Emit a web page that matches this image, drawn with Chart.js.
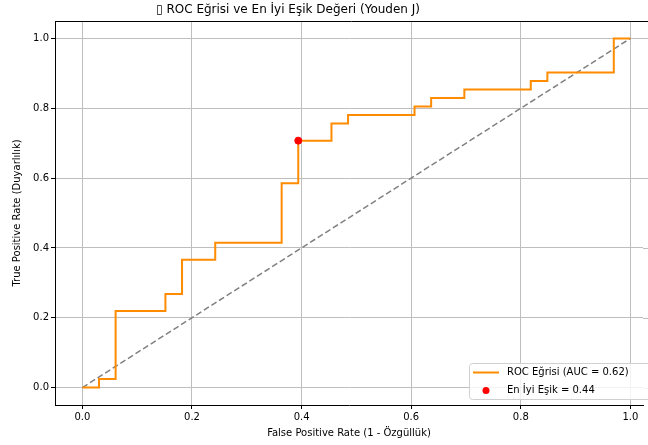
<!DOCTYPE html>
<html>
<head>
<meta charset="utf-8">
<script src="https://cdn.jsdelivr.net/npm/chart.js@4.4.1/dist/chart.umd.min.js"></script>
<style>
  html, body { margin: 0; padding: 0; background: #fff; }
  canvas { display: block; }
</style>
</head>
<body>
<canvas id="rocChart" width="648" height="445"></canvas>
<script>
// ROC corner points
const fpr = [0, 0.0303, 0.0303, 0.0606, 0.0606, 0.1515, 0.1515, 0.1818, 0.1818, 0.2424, 0.2424,
             0.3636, 0.3636, 0.3939, 0.3939, 0.4545, 0.4545, 0.4848, 0.4848, 0.6061, 0.6061,
             0.6364, 0.6364, 0.6970, 0.6970, 0.8182, 0.8182, 0.8485, 0.8485, 0.9697, 0.9697, 1.0];
const tpr = [0, 0, 0.0244, 0.0244, 0.2195, 0.2195, 0.2683, 0.2683, 0.3659, 0.3659, 0.4146,
             0.4146, 0.5854, 0.5854, 0.7073, 0.7073, 0.7561, 0.7561, 0.7805, 0.7805, 0.8049,
             0.8049, 0.8293, 0.8293, 0.8537, 0.8537, 0.8780, 0.8780, 0.9024, 0.9024, 1.0, 1.0];
const chanceX = [0, 1];
const chanceY = [0, 1];
const bestPoint = { x: 0.3939, y: 0.7073 };
const aucValue = 0.62;
const bestThreshold = 0.44;
const xTicks = [0, 0.2, 0.4, 0.6, 0.8, 1.0];
const yTicks = [0, 0.2, 0.4, 0.6, 0.8, 1.0];

const FONT = "'DejaVu Sans', sans-serif";
const GRID = '#bebebe';

const rocPoints = fpr.map((x, i) => ({ x: x, y: tpr[i] }));
const chancePoints = chanceX.map((x, i) => ({ x: x, y: chanceY[i] }));

// axes run off the right edge of the figure: carry grid + top spine to the edge,
// then title and the legend inside the axes
const extras = {
    id: 'extras',
    beforeDatasetsDraw(chart) {
        const ctx = chart.ctx;
        const a = chart.chartArea;
        const y = chart.scales.y;
        ctx.save();
        ctx.strokeStyle = GRID;
        ctx.lineWidth = 1;
        yTicks.forEach(v => {
            const py = Math.round(y.getPixelForValue(v)) + 0.5;
            ctx.beginPath();
            ctx.moveTo(a.right, py);
            ctx.lineTo(chart.width, py);
            ctx.stroke();
        });
        ctx.restore();
    },
    afterDraw(chart) {
        const ctx = chart.ctx;
        const a = chart.chartArea;
        ctx.save();
        ctx.strokeStyle = '#000';
        ctx.lineWidth = 1;
        ctx.beginPath();
        ctx.moveTo(a.left, a.top + 0.5);
        ctx.lineTo(chart.width, a.top + 0.5);
        ctx.stroke();

        ctx.fillStyle = '#000';
        ctx.font = '12px ' + FONT;
        ctx.textAlign = 'center';
        ctx.textBaseline = 'middle';
        ctx.fillText('\u25AF ROC Eğrisi ve En İyi Eşik Değeri (Youden J)', 288, 10);

        // legend
        const ds = chart.data.datasets;
        const bx = 469, by = 363, bw = 186, bh = 36;
        ctx.fillStyle = 'rgba(255,255,255,0.8)';
        ctx.strokeStyle = '#d0d0d0';
        ctx.beginPath();
        ctx.roundRect(bx + 0.5, by + 0.5, bw, bh, 3);
        ctx.fill();
        ctx.stroke();

        ctx.strokeStyle = ds[0].borderColor;
        ctx.lineWidth = 2;
        ctx.beginPath();
        ctx.moveTo(473, 372.5);
        ctx.lineTo(499, 372.5);
        ctx.stroke();

        ctx.fillStyle = ds[2].backgroundColor;
        ctx.beginPath();
        ctx.arc(486, 390.5, 3.5, 0, Math.PI * 2);
        ctx.fill();

        ctx.fillStyle = '#000';
        ctx.font = '10px ' + FONT;
        ctx.textAlign = 'left';
        ctx.fillText(ds[0].label, 507, 372.5);
        ctx.fillText(ds[2].label, 507, 390.5);
        ctx.restore();
    }
};

new Chart(document.getElementById('rocChart').getContext('2d'), {
    type: 'scatter',
    data: {
        datasets: [
            {
                label: 'ROC Eğrisi (AUC = ' + aucValue.toFixed(2) + ')',
                data: rocPoints,
                showLine: true,
                borderColor: '#ff8c00',
                backgroundColor: '#ff8c00',
                borderWidth: 2,
                pointRadius: 0,
                tension: 0,
                order: 1
            },
            {
                label: 'chance',
                data: chancePoints,
                showLine: true,
                borderColor: '#808080',
                borderWidth: 1.5,
                borderDash: [6, 3],
                pointRadius: 0,
                order: 2
            },
            {
                label: 'En İyi Eşik = ' + bestThreshold.toFixed(2),
                data: [bestPoint],
                backgroundColor: 'red',
                borderColor: 'red',
                pointRadius: 3.5,
                order: 0
            }
        ]
    },
    options: {
        responsive: false,
        animation: false,
        devicePixelRatio: 1,
        layout: { padding: { top: 21, right: 0, bottom: 0, left: 0 } },
        plugins: {
            legend: { display: false },
            tooltip: { enabled: false },
            title: { display: false }
        },
        scales: {
            x: {
                type: 'linear',
                min: -0.05,
                max: 1.023,
                afterBuildTicks: s => { s.ticks = xTicks.map(v => ({ value: v })); },
                afterFit: s => { s.height = 40; },
                grid: { color: GRID, lineWidth: 1, tickLength: 4, tickColor: '#000' },
                border: { color: '#000', width: 1 },
                ticks: {
                    color: '#000',
                    padding: 2,
                    maxRotation: 0,
                    font: { family: FONT, size: 10 },
                    callback: v => v.toFixed(1)
                },
                title: {
                    display: true,
                    text: 'False Positive Rate (1 - Özgüllük)',
                    color: '#000',
                    font: { family: FONT, size: 10 },
                    padding: { top: 0, bottom: 6 }
                }
            },
            y: {
                type: 'linear',
                min: -0.05,
                max: 1.05,
                afterBuildTicks: s => { s.ticks = yTicks.map(v => ({ value: v })); },
                afterFit: s => { s.width = 55; },
                grid: { color: GRID, lineWidth: 1, tickLength: 4, tickColor: '#000' },
                border: { color: '#000', width: 1 },
                ticks: {
                    color: '#000',
                    padding: 2,
                    font: { family: FONT, size: 10 },
                    callback: v => v.toFixed(1)
                },
                title: {
                    display: true,
                    text: 'True Positive Rate (Duyarlılık)',
                    color: '#000',
                    font: { family: FONT, size: 10 },
                    padding: { top: 11, bottom: 0 }
                }
            }
        }
    },
    plugins: [extras]
});
</script>
</body>
</html>
